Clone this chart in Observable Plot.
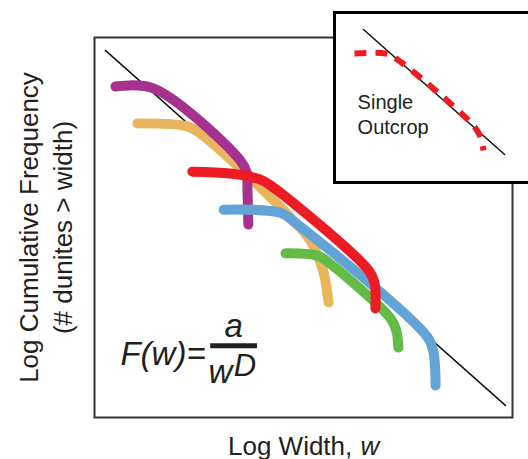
<!DOCTYPE html>
<html>
<head>
<meta charset="utf-8">
<script src="https://cdn.jsdelivr.net/npm/d3@7"></script>
<script src="https://cdn.jsdelivr.net/npm/@observablehq/plot@0.6"></script>
<style>
  html, body { margin: 0; padding: 0; background: #fff; overflow: hidden; }
  #wrap { position: relative; width: 528px; height: 459px; overflow: hidden; }
  #wrap svg { position: absolute; font-family: "Liberation Sans", Arial, Helvetica, sans-serif; }
  #inset { left: 332px; top: 10px; }
  #main { left: 0; top: 0; }
</style>
</head>
<body>
<div id="wrap"></div>
<script>
// ---- Main chart data (log width, log cumulative frequency) ----
const powerLawX = [0.26, 9.83];
const powerLawY = [9.66, 0.32];

const orangeX = [1.03, 2.22, 2.54, 5.10, 5.31, 5.48, 5.60];
const orangeY = [7.74, 7.66, 7.47, 4.76, 4.34, 3.82, 3.03];

const purpleX = [0.50, 1.41, 3.49, 3.64, 3.66, 3.68];
const purpleY = [8.71, 8.66, 6.76, 6.45, 5.97, 5.08];

const blueX = [3.09, 4.45, 4.74, 7.97, 8.11, 8.16];
const blueY = [5.47, 5.39, 5.18, 2.11, 1.71, 0.84];

const greenX = [4.57, 5.33, 5.60, 7.08, 7.22, 7.27];
const greenY = [4.32, 4.26, 4.08, 2.61, 2.29, 1.84];

const redX = [2.34, 3.25, 3.97, 4.21, 6.56, 6.70, 6.72];
const redY = [6.47, 6.42, 6.26, 6.11, 3.87, 3.53, 2.87];

const seriesNames = ["orange", "purple", "blue", "green", "red"];
const seriesColors = ["#E9B65E", "#A6318E", "#62A4D8", "#64BC46", "#ED1C24"];
const seriesXs = [orangeX, purpleX, blueX, greenX, redX];
const seriesYs = [orangeY, purpleY, blueY, greenY, redY];

// ---- Inset data (single outcrop) ----
const insetLineX = [1.38, 8.10];
const insetLineY = [9.00, 1.65];
const outcropX = [0.95, 2.43, 2.86, 6.48, 6.90, 7.10];
const outcropY = [7.59, 7.59, 7.35, 3.53, 2.82, 1.88];

// ---- Text ----
const yLabel = "Log Cumulative Frequency\n(# dunites > width)";
const xLabelMain = "Log Width, ";
const xLabelVar = "w";
const insetLabel = ["Single", "Outcrop"];

const textColor = "#231f20";
const font = "Liberation Sans, Arial, Helvetica, sans-serif";

// build tables
const zipXY = (xs, ys) => xs.map((x, i) => ({x, y: ys[i]}));
const series = seriesNames.map((name, k) => ({
  name, color: seriesColors[k], pts: zipXY(seriesXs[k], seriesYs[k])
}));
const powerLaw = zipXY(powerLawX, powerLawY);
const insetLine = zipXY(insetLineX, insetLineY);
const outcrop = zipXY(outcropX, outcropY);

const curveMarks = series.map(s => Plot.line(s.pts, {
  x: "x", y: "y", stroke: s.color, strokeWidth: 10,
  strokeLinecap: "round", strokeLinejoin: "round", curve: "catmull-rom"
}));

const main = Plot.plot({
  width: 528, height: 459,
  marginTop: 37, marginRight: 16, marginBottom: 42, marginLeft: 94,
  x: {domain: [0, 10], axis: null},
  y: {domain: [0, 10], axis: null},
  style: {fontFamily: font, background: "transparent"},
  marks: [
    Plot.line(powerLaw, {x: "x", y: "y", stroke: "#111", strokeWidth: 1.5}),
    ...curveMarks,
    Plot.frame({stroke: "#333", strokeWidth: 2}),
    // y-axis label
    Plot.text([yLabel], {frameAnchor: "left", dx: -50, rotate: -90,
      textAnchor: "middle", lineAnchor: "middle",
      fontSize: 26, lineHeight: 1.3, fill: textColor}),
    // x-axis label
    Plot.text([xLabelMain], {frameAnchor: "bottom", dx: 56, dy: 37,
      textAnchor: "end", lineAnchor: "bottom", fontSize: 26, fill: textColor}),
    Plot.text([xLabelVar], {frameAnchor: "bottom", dx: 57, dy: 37,
      textAnchor: "start", lineAnchor: "bottom", fontSize: 26, fontStyle: "italic", fill: textColor}),
    // formula F(w) = a / w^D
    Plot.text([{x: 0.62, y: 1.37, t: "F(w)="}], {x: "x", y: "y", text: "t",
      textAnchor: "start", lineAnchor: "bottom", fontSize: 33, fontStyle: "italic", fill: textColor}),
    Plot.text([{x: 3.33, y: 2.13, t: "a"}], {x: "x", y: "y", text: "t",
      textAnchor: "middle", lineAnchor: "bottom", fontSize: 33, fontStyle: "italic", fill: textColor}),
    Plot.ruleY([{y: 1.89, x1: 2.78, x2: 3.90}], {y: "y", x1: "x1", x2: "x2",
      stroke: textColor, strokeWidth: 5}),
    Plot.text([{x: 2.73, y: 0.92, t: "w"}], {x: "x", y: "y", text: "t",
      textAnchor: "start", lineAnchor: "bottom", fontSize: 33, fontStyle: "italic", fill: textColor}),
    Plot.text([{x: 3.33, y: 1.105, t: "D"}], {x: "x", y: "y", text: "t",
      textAnchor: "start", lineAnchor: "bottom", fontSize: 31, fontStyle: "italic", fill: textColor})
  ]
});
main.id = "main";

const inset = Plot.plot({
  width: 214, height: 174,
  marginTop: 2, marginRight: 2, marginBottom: 2, marginLeft: 2,
  x: {domain: [0, 10], axis: null},
  y: {domain: [0, 10], axis: null},
  style: {fontFamily: font, background: "transparent"},
  marks: [
    Plot.frame({fill: "white"}),
    Plot.line(insetLine, {x: "x", y: "y", stroke: "#111", strokeWidth: 1.5}),
    Plot.line(outcrop, {x: "x", y: "y", stroke: "#ED1C24", strokeWidth: 6,
      strokeDasharray: "12,9", strokeLinecap: "butt", curve: "catmull-rom"}),
    Plot.text([{x: 1.10, y: 4.35, t: insetLabel[0]}, {x: 1.10, y: 2.88, t: insetLabel[1]}],
      {x: "x", y: "y", text: "t", textAnchor: "start", lineAnchor: "bottom",
       fontSize: 20, fill: textColor}),
    Plot.frame({stroke: "#000", strokeWidth: 3})
  ]
});
inset.id = "inset";

const wrap = document.getElementById("wrap");
wrap.appendChild(main);
wrap.appendChild(inset);
</script>
</body>
</html>
